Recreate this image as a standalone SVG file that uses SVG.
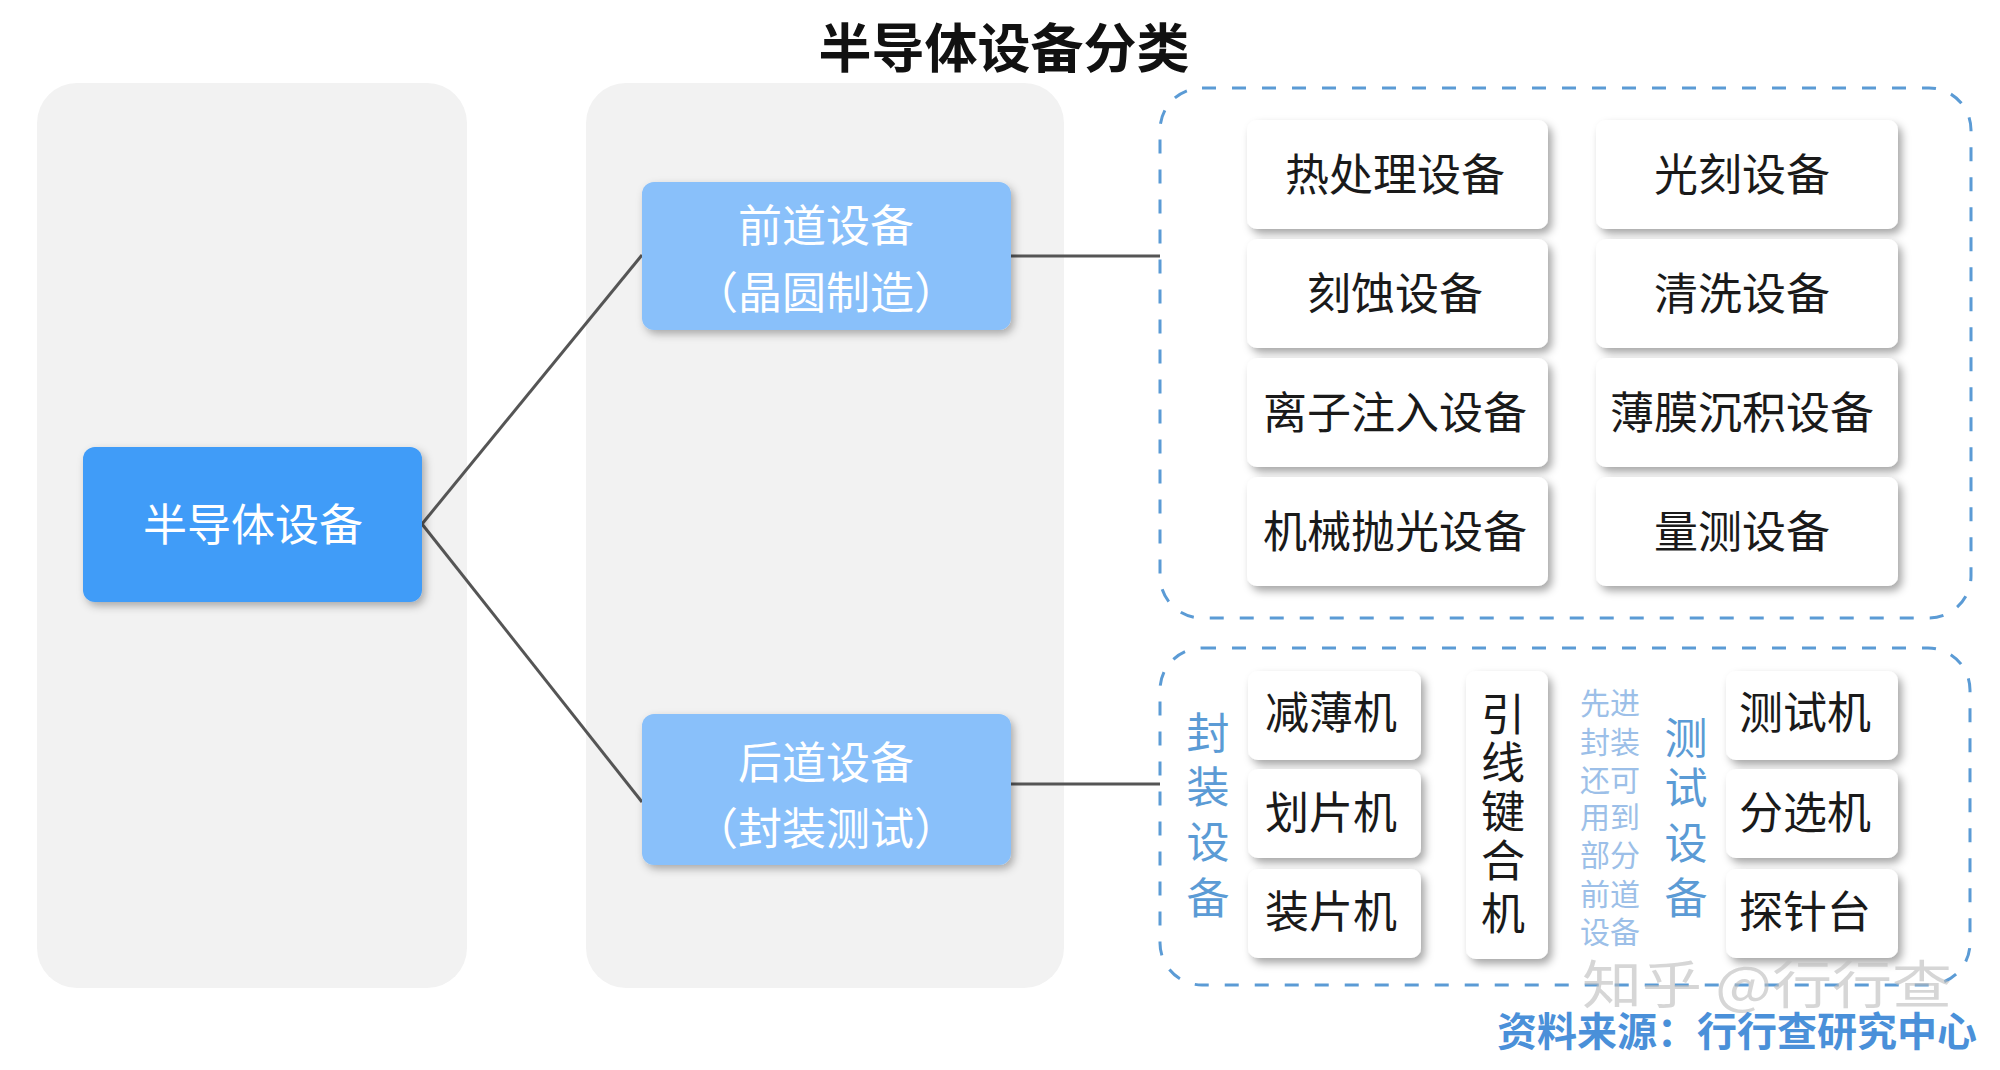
<svg xmlns="http://www.w3.org/2000/svg" width="2000" height="1070" viewBox="0 0 2000 1070">
<defs>
<filter id="sh" x="-20%" y="-20%" width="140%" height="150%">
<feDropShadow dx="4" dy="5" stdDeviation="4" flood-color="#000" flood-opacity="0.35"/>
</filter>
<filter id="shb" x="-20%" y="-20%" width="140%" height="150%">
<feDropShadow dx="3" dy="4" stdDeviation="4" flood-color="#000" flood-opacity="0.3"/>
</filter>
</defs>
<style>
text{font-family:"Noto Sans CJK SC","Noto Sans",sans-serif;}
.panel{fill:#f2f2f2;}
.main{fill:#409cf8;filter:url(#shb);}
.sub{fill:#89c0fa;filter:url(#shb);}
.card{fill:#ffffff;filter:url(#sh);}
.wt{fill:#ffffff;font-size:44px;text-anchor:middle;}
.bt{fill:#1a1a1a;font-size:44px;text-anchor:middle;}
.grp{fill:none;stroke:#5b9bd5;stroke-width:3;stroke-dasharray:14 16;}
.blue{fill:#5b9bd5;font-size:43px;text-anchor:middle;}
.note{fill:#9cbfe8;font-size:30px;text-anchor:middle;}
.conn{stroke:#555555;stroke-width:3;fill:none;}
</style>
<rect width="2000" height="1070" fill="#ffffff"/>
<text x="1004" y="68" font-size="53" font-weight="bold" text-anchor="middle" fill="#111111">半导体设备分类</text>
<rect class="panel" x="37" y="83" width="430" height="905" rx="40"/>
<rect class="panel" x="586" y="83" width="478" height="905" rx="40"/>
<g id="connectors">
<path class="conn" d="M422,524 L642,255"/>
<path class="conn" d="M422,524 L642,802"/>
<path class="conn" d="M1011,256 L1160,256"/>
<path class="conn" d="M1011,784 L1160,784"/>
</g>
<g id="root">
<rect class="main" x="83" y="447" width="339" height="155" rx="12"/>
<text class="wt" x="253" y="541">半导体设备</text>
</g>
<g id="front">
<rect class="sub" x="642" y="182" width="369" height="148" rx="12"/>
<text class="wt" x="826" y="242">前道设备</text>
<text class="wt" x="826" y="309">（晶圆制造）</text>
</g>
<g id="back">
<rect class="sub" x="642" y="714" width="369" height="151" rx="12"/>
<text class="wt" x="826" y="779">后道设备</text>
<text class="wt" x="826" y="845">（封装测试）</text>
</g>
<g id="front-group">
<rect class="grp" x="1160" y="88" width="811" height="530" rx="42"/>
</g>
<g id="f1"><rect class="card" x="1247" y="120" width="301" height="109" rx="10"/><text class="bt" x="1395" y="191">热处理设备</text></g>
<g id="f2"><rect class="card" x="1596" y="120" width="302" height="109" rx="10"/><text class="bt" x="1742" y="191">光刻设备</text></g>
<g id="f3"><rect class="card" x="1247" y="239" width="301" height="109" rx="10"/><text class="bt" x="1395" y="310">刻蚀设备</text></g>
<g id="f4"><rect class="card" x="1596" y="239" width="302" height="109" rx="10"/><text class="bt" x="1742" y="310">清洗设备</text></g>
<g id="f5"><rect class="card" x="1247" y="358" width="301" height="109" rx="10"/><text class="bt" x="1395" y="429">离子注入设备</text></g>
<g id="f6"><rect class="card" x="1596" y="358" width="302" height="109" rx="10"/><text class="bt" x="1742" y="429">薄膜沉积设备</text></g>
<g id="f7"><rect class="card" x="1247" y="477" width="301" height="109" rx="10"/><text class="bt" x="1395" y="548">机械抛光设备</text></g>
<g id="f8"><rect class="card" x="1596" y="477" width="302" height="109" rx="10"/><text class="bt" x="1742" y="548">量测设备</text></g>
<g id="back-group">
<rect class="grp" x="1160" y="648" width="810" height="337" rx="42"/>
</g>
<g id="pack-label">
<text class="blue" x="1208"><tspan x="1208" y="749">封</tspan><tspan x="1208" y="803">装</tspan><tspan x="1208" y="858">设</tspan><tspan x="1208" y="914">备</tspan></text>
</g>
<g id="b1"><rect class="card" x="1248" y="671" width="173" height="89" rx="10"/><text class="bt" x="1331" y="729">减薄机</text></g>
<g id="b2"><rect class="card" x="1248" y="769" width="173" height="89" rx="10"/><text class="bt" x="1331" y="829">划片机</text></g>
<g id="b3"><rect class="card" x="1248" y="869" width="173" height="89" rx="10"/><text class="bt" x="1331" y="928">装片机</text></g>
<g id="b4"><rect class="card" x="1466" y="671" width="82" height="288" rx="10"/>
<text class="bt"><tspan x="1503" y="731">引</tspan><tspan x="1503" y="779">线</tspan><tspan x="1503" y="828">键</tspan><tspan x="1503" y="877">合</tspan><tspan x="1503" y="930">机</tspan></text></g>
<g id="note">
<text class="note"><tspan x="1610" y="714">先进</tspan><tspan x="1610" y="753">封装</tspan><tspan x="1610" y="791">还可</tspan><tspan x="1610" y="828">用到</tspan><tspan x="1610" y="866">部分</tspan><tspan x="1610" y="905">前道</tspan><tspan x="1610" y="943">设备</tspan></text>
</g>
<g id="test-label">
<text class="blue"><tspan x="1686" y="754">测</tspan><tspan x="1686" y="804">试</tspan><tspan x="1686" y="859">设</tspan><tspan x="1686" y="914">备</tspan></text>
</g>
<g id="t1"><rect class="card" x="1726" y="671" width="172" height="89" rx="10"/><text class="bt" x="1805" y="729">测试机</text></g>
<g id="t2"><rect class="card" x="1726" y="769" width="172" height="89" rx="10"/><text class="bt" x="1805" y="829">分选机</text></g>
<g id="t3"><rect class="card" x="1726" y="869" width="172" height="89" rx="10"/><text class="bt" x="1805" y="928">探针台</text></g>
<text x="1582" y="1004" font-size="52" fill="#bbbbbb" fill-opacity="0.6" textLength="370" lengthAdjust="spacingAndGlyphs">知乎 @行行查</text>
<text x="1497" y="1046" font-size="40" font-weight="bold" fill="#4a90d9">资料来源：行行查研究中心</text>
</svg>
